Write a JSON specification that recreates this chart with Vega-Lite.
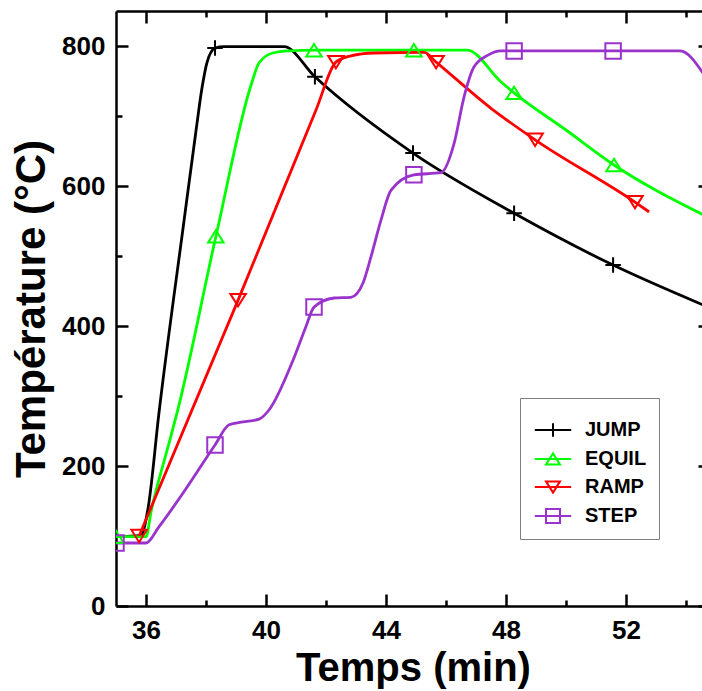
{
  "$schema": "https://vega.github.io/schema/vega-lite/v6.json",
  "width": 586,
  "height": 595,
  "autosize": {"type": "none"},
  "padding": {"left": 116, "top": 11, "right": 0, "bottom": 85},
  "config": {"view": {"stroke": null}, "font": "Liberation Sans"},
  "data": {
    "values": [
      {"series": "JUMP", "time": 35, "temp": 99, "marker": 0},
      {"series": "JUMP", "time": 35.83, "temp": 101, "marker": 0},
      {"series": "JUMP", "time": 36.07, "temp": 140, "marker": 0},
      {"series": "JUMP", "time": 36.43, "temp": 275, "marker": 0},
      {"series": "JUMP", "time": 37.27, "temp": 551, "marker": 0},
      {"series": "JUMP", "time": 37.67, "temp": 680, "marker": 0},
      {"series": "JUMP", "time": 37.87, "temp": 741, "marker": 0},
      {"series": "JUMP", "time": 38.03, "temp": 776, "marker": 0},
      {"series": "JUMP", "time": 38.3, "temp": 797, "marker": 1},
      {"series": "JUMP", "time": 38.6, "temp": 799, "marker": 0},
      {"series": "JUMP", "time": 40.6, "temp": 799, "marker": 0},
      {"series": "JUMP", "time": 41.63, "temp": 756, "marker": 1},
      {"series": "JUMP", "time": 44.9, "temp": 647, "marker": 1},
      {"series": "JUMP", "time": 48.27, "temp": 561, "marker": 1},
      {"series": "JUMP", "time": 51.57, "temp": 487, "marker": 1},
      {"series": "JUMP", "time": 54.57, "temp": 430, "marker": 0},
      {"series": "EQUIL", "time": 35, "temp": 99, "marker": 1},
      {"series": "EQUIL", "time": 36.0, "temp": 99, "marker": 0},
      {"series": "EQUIL", "time": 36.17, "temp": 135, "marker": 0},
      {"series": "EQUIL", "time": 36.77, "temp": 233, "marker": 0},
      {"series": "EQUIL", "time": 37.07, "temp": 282, "marker": 0},
      {"series": "EQUIL", "time": 38.33, "temp": 528, "marker": 1},
      {"series": "EQUIL", "time": 39.5, "temp": 744, "marker": 0},
      {"series": "EQUIL", "time": 39.77, "temp": 776, "marker": 0},
      {"series": "EQUIL", "time": 40.23, "temp": 790, "marker": 0},
      {"series": "EQUIL", "time": 40.77, "temp": 793, "marker": 0},
      {"series": "EQUIL", "time": 41.6, "temp": 794, "marker": 1},
      {"series": "EQUIL", "time": 44.93, "temp": 794, "marker": 1},
      {"series": "EQUIL", "time": 46.7, "temp": 794, "marker": 0},
      {"series": "EQUIL", "time": 47.83, "temp": 749, "marker": 0},
      {"series": "EQUIL", "time": 48.27, "temp": 733, "marker": 1},
      {"series": "EQUIL", "time": 50.0, "temp": 680, "marker": 0},
      {"series": "EQUIL", "time": 51.6, "temp": 630, "marker": 1},
      {"series": "EQUIL", "time": 54.57, "temp": 559, "marker": 0},
      {"series": "RAMP", "time": 35.77, "temp": 100, "marker": 1},
      {"series": "RAMP", "time": 39.07, "temp": 437, "marker": 1},
      {"series": "RAMP", "time": 41.67, "temp": 709, "marker": 0},
      {"series": "RAMP", "time": 42.33, "temp": 777, "marker": 1},
      {"series": "RAMP", "time": 42.83, "temp": 786, "marker": 0},
      {"series": "RAMP", "time": 43.6, "temp": 790, "marker": 0},
      {"series": "RAMP", "time": 45.27, "temp": 791, "marker": 0},
      {"series": "RAMP", "time": 45.67, "temp": 777, "marker": 1},
      {"series": "RAMP", "time": 47.5, "temp": 711, "marker": 0},
      {"series": "RAMP", "time": 48.97, "temp": 666, "marker": 1},
      {"series": "RAMP", "time": 52.3, "temp": 577, "marker": 1},
      {"series": "RAMP", "time": 52.77, "temp": 563, "marker": 0},
      {"series": "STEP", "time": 35, "temp": 90, "marker": 1},
      {"series": "STEP", "time": 36.0, "temp": 90, "marker": 0},
      {"series": "STEP", "time": 36.43, "temp": 113, "marker": 0},
      {"series": "STEP", "time": 37.23, "temp": 161, "marker": 0},
      {"series": "STEP", "time": 38.3, "temp": 230, "marker": 1},
      {"series": "STEP", "time": 38.77, "temp": 259, "marker": 0},
      {"series": "STEP", "time": 39.23, "temp": 263, "marker": 0},
      {"series": "STEP", "time": 39.77, "temp": 267, "marker": 0},
      {"series": "STEP", "time": 40.1, "temp": 280, "marker": 0},
      {"series": "STEP", "time": 40.9, "temp": 351, "marker": 0},
      {"series": "STEP", "time": 41.33, "temp": 399, "marker": 0},
      {"series": "STEP", "time": 41.6, "temp": 427, "marker": 1},
      {"series": "STEP", "time": 42.27, "temp": 440, "marker": 0},
      {"series": "STEP", "time": 42.83, "temp": 441, "marker": 0},
      {"series": "STEP", "time": 43.23, "temp": 461, "marker": 0},
      {"series": "STEP", "time": 43.5, "temp": 499, "marker": 0},
      {"series": "STEP", "time": 43.83, "temp": 551, "marker": 0},
      {"series": "STEP", "time": 44.17, "temp": 594, "marker": 0},
      {"series": "STEP", "time": 44.93, "temp": 616, "marker": 1},
      {"series": "STEP", "time": 45.83, "temp": 619, "marker": 0},
      {"series": "STEP", "time": 46.27, "temp": 661, "marker": 0},
      {"series": "STEP", "time": 46.6, "temp": 727, "marker": 0},
      {"series": "STEP", "time": 46.93, "temp": 770, "marker": 0},
      {"series": "STEP", "time": 47.4, "temp": 787, "marker": 0},
      {"series": "STEP", "time": 47.83, "temp": 793, "marker": 0},
      {"series": "STEP", "time": 48.27, "temp": 793, "marker": 1},
      {"series": "STEP", "time": 51.57, "temp": 793, "marker": 1},
      {"series": "STEP", "time": 53.8, "temp": 793, "marker": 0},
      {"series": "STEP", "time": 54.57, "temp": 761, "marker": 0}
    ]
  },
  "layer": [
    {
      "mark": {"type": "line", "interpolate": "monotone", "strokeWidth": 2.8, "clip": true},
      "encoding": {
        "x": {
          "field": "time", "type": "quantitative",
          "scale": {"domain": [35, 54.533], "nice": false, "zero": false},
          "axis": {
            "orient": "bottom",
            "values": [36, 38, 40, 42, 44, 46, 48, 50, 52, 54],
            "labelExpr": "datum.value % 4 === 0 ? datum.label : ''",
            "tickSize": -12,
            "tickDash": {"condition": {"test": "datum.value % 4 === 0", "value": [12, 0]}, "value": [6, 40]},
            "tickWidth": 2.5, "tickColor": "black",
            "domainColor": "black", "domainWidth": 2.5,
            "grid": false,
            "labelFont": "Liberation Sans", "labelFontWeight": "bold", "labelFontSize": 26, "labelColor": "black",
            "labelPadding": 23, "labelFlush": false, "labelOverlap": false,
            "title": "Temps (min)", "titleFont": "Liberation Sans", "titleFontWeight": "bold", "titleFontSize": 40, "titleColor": "black", "titlePadding": 5, "titleX": 297
          }
        },
        "y": {
          "field": "temp", "type": "quantitative",
          "scale": {"domain": [0, 850], "nice": false, "zero": true},
          "axis": {
            "orient": "left",
            "values": [0, 100, 200, 300, 400, 500, 600, 700, 800],
            "labelExpr": "datum.value % 200 === 0 ? datum.label : ''",
            "tickSize": -12,
            "tickDash": {"condition": {"test": "datum.value % 200 === 0", "value": [12, 0]}, "value": [6, 40]},
            "tickWidth": 2.5, "tickColor": "black",
            "domainColor": "black", "domainWidth": 2.5,
            "grid": false,
            "labelFont": "Liberation Sans", "labelFontWeight": "bold", "labelFontSize": 26, "labelColor": "black",
            "labelPadding": 23, "labelFlush": false, "labelOverlap": false,
            "title": "Température (°C)", "titleFont": "Liberation Sans", "titleFontWeight": "bold", "titleFontSize": 42, "titleColor": "black", "titlePadding": 8
          }
        },
        "color": {
          "field": "series", "type": "nominal",
          "scale": {"domain": ["JUMP", "EQUIL", "RAMP", "STEP"], "range": ["#000000", "#00ff00", "#ff0000", "#9933cc"]},
          "legend": {
            "title": " ", "titleFontSize": 5, "titlePadding": 5,
            "orient": "none", "legendX": 404, "legendY": 387,
            "strokeColor": "#808080", "fillColor": "white", "padding": 12, "rowPadding": 8,
            "symbolSize": 196, "symbolStrokeWidth": 2, "symbolFillColor": "transparent", "symbolType": "M-2.6,0H2.6", "symbolOffset": 11,
            "labelFont": "Liberation Sans", "labelFontWeight": "bold", "labelFontSize": 20, "labelColor": "black", "labelOffset": 22,
            "encode": {"symbols": {"update": {"shape": {"signal": "datum.value === 'JUMP' ? 'M-2.6,0H2.6M0,-0.95V0.95' : datum.value === 'EQUIL' ? 'M-2.6,0H2.6M0,-0.8L1,0.8L-1,0.8Z' : datum.value === 'RAMP' ? 'M-2.6,0H2.6M0,0.8L1,-0.8L-1,-0.8Z' : 'M-2.6,0H2.6M-1,-1H1V1H-1Z'"}, "fill": {"value": "transparent"}}}}
          }
        }
      }
    },
    {
      "transform": [{"filter": "datum.marker === 1 && datum.series === 'JUMP'"}],
      "mark": {"type": "point", "shape": "M-1,0H1M0,-1V1", "color": "#000000", "filled": false, "size": 240, "strokeWidth": 2, "opacity": 1, "clip": true},
      "encoding": {
        "x": {
          "field": "time", "type": "quantitative",
          "axis": {
            "orient": "top",
            "values": [36, 38, 40, 42, 44, 46, 48, 50, 52, 54],
            "labels": false, "title": null, "grid": false,
            "tickSize": -12,
            "tickDash": {"condition": {"test": "datum.value % 4 === 0", "value": [12, 0]}, "value": [6, 40]},
            "tickWidth": 2.5, "tickColor": "black",
            "domainColor": "black", "domainWidth": 2.5
          }
        },
        "y": {
          "field": "temp", "type": "quantitative",
          "axis": {
            "orient": "right",
            "values": [0, 200, 400, 600, 800],
            "labels": false, "title": null, "grid": false, "domain": false,
            "tickSize": -4, "tickWidth": 2.5, "tickColor": "black"
          }
        }
      }
    },
    {
      "transform": [{"filter": "datum.marker === 1 && datum.series === 'EQUIL'"}],
      "mark": {"type": "point", "shape": "M0,-0.8L1,0.8L-1,0.8Z", "color": "#00ff00", "filled": false, "size": 240, "strokeWidth": 2, "opacity": 1, "clip": true},
      "encoding": {
        "x": {"field": "time", "type": "quantitative", "axis": null},
        "y": {"field": "temp", "type": "quantitative", "axis": null}
      }
    },
    {
      "transform": [{"filter": "datum.marker === 1 && datum.series === 'RAMP'"}],
      "mark": {"type": "point", "shape": "M0,0.8L1,-0.8L-1,-0.8Z", "color": "#ff0000", "filled": false, "size": 240, "strokeWidth": 2, "opacity": 1, "clip": true},
      "encoding": {
        "x": {"field": "time", "type": "quantitative", "axis": null},
        "y": {"field": "temp", "type": "quantitative", "axis": null}
      }
    },
    {
      "transform": [{"filter": "datum.marker === 1 && datum.series === 'STEP'"}],
      "mark": {"type": "point", "shape": "M-1,-1H1V1H-1Z", "color": "#9933cc", "filled": false, "size": 240, "strokeWidth": 2, "opacity": 1, "clip": true},
      "encoding": {
        "x": {"field": "time", "type": "quantitative", "axis": null},
        "y": {"field": "temp", "type": "quantitative", "axis": null}
      }
    }
  ],
  "resolve": {"axis": {"x": "independent", "y": "independent"}}
}
